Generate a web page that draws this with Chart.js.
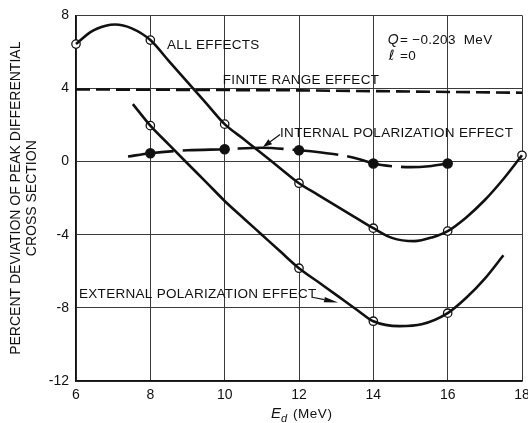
<!DOCTYPE html>
<html>
<head>
<meta charset="utf-8">
<script src="https://cdn.jsdelivr.net/npm/chart.js@4.4.1/dist/chart.umd.min.js"></script>
<style>
  html, body { margin: 0; padding: 0; background: #fff; }
  canvas { display: block; }
</style>
</head>
<body>
<canvas id="chart" width="528" height="423"></canvas>
<script>
// Deuteron energy E_d (MeV) and percent deviation of the peak differential cross section.

// All effects: traced curve and the computed points (open circles)
const allEffectsE   = [6.0, 6.4, 6.8, 7.05, 7.5, 8.0, 8.5, 9.0, 9.5, 10.0, 10.5, 11.0, 11.5, 12.0, 12.5, 13.0, 13.5, 14.0, 14.5, 15.1, 15.6, 16.0, 16.5, 17.0, 17.5, 18.0];
const allEffectsDev = [6.43, 7.1, 7.43, 7.5, 7.29, 6.65, 5.5, 4.35, 3.2, 2.05, 1.25, 0.45, -0.37, -1.18, -1.8, -2.42, -3.03, -3.64, -4.17, -4.35, -4.13, -3.8, -3.05, -2.1, -0.95, 0.35];
const allEffectsPtE   = [6, 8, 10, 12, 14, 16, 18];
const allEffectsPtDev = [6.43, 6.65, 2.05, -1.18, -3.64, -3.8, 0.35];

// Finite range effect (dashed)
const finiteRangeE   = [6, 12, 18];
const finiteRangeDev = [3.95, 3.9, 3.77];

// Internal polarization effect (long dashes, filled circles)
const internalE   = [7.4, 8, 9, 10, 11, 12, 12.6, 13.2, 13.6, 14, 14.5, 15, 15.5, 16];
const internalDev = [0.28, 0.46, 0.62, 0.68, 0.76, 0.62, 0.5, 0.33, 0.15, -0.1, -0.25, -0.3, -0.25, -0.1];
const internalPtE   = [8, 10, 12, 14, 16];
const internalPtDev = [0.46, 0.68, 0.62, -0.1, -0.1];

// External polarization effect (open circles)
const externalE   = [7.53, 8.0, 8.5, 9.0, 9.5, 10.0, 10.5, 11.0, 11.5, 12.0, 12.5, 13.0, 13.6, 14.0, 14.7, 15.3, 16.0, 16.5, 17.0, 17.5];
const externalDev = [3.15, 1.97, 0.93, -0.1, -1.12, -2.15, -3.08, -4.0, -4.92, -5.83, -6.56, -7.29, -8.17, -8.73, -9.0, -8.9, -8.29, -7.45, -6.4, -5.12];
const externalPtE   = [8, 12, 14, 16];
const externalPtDev = [1.97, -5.83, -8.73, -8.29];

// Axis ticks
const xTicks = [6, 8, 10, 12, 14, 16, 18];
const yTicks = [-12, -8, -4, 0, 4, 8];

const pairs = (xs, ys) => xs.map((x, i) => ({ x, y: ys[i] }));
const FONT = '"Liberation Sans", Arial, Helvetica, sans-serif';
const INK = '#111';

function curve(xs, ys, extra) {
  return Object.assign({
    type: 'line',
    data: pairs(xs, ys),
    borderColor: INK,
    borderWidth: 2.6,
    pointRadius: 0,
    pointHoverRadius: 0,
    fill: false,
    cubicInterpolationMode: 'monotone',
    clip: false
  }, extra || {});
}

function markers(xs, ys, filled) {
  return {
    type: 'scatter',
    data: pairs(xs, ys),
    showLine: false,
    pointRadius: filled ? 4.6 : 4.2,
    pointHoverRadius: filled ? 4.6 : 4.2,
    pointBackgroundColor: filled ? INK : '#fff',
    pointBorderColor: INK,
    pointBorderWidth: 1.3,
    clip: false
  };
}

// Curve labels, arrows and the reaction parameters, placed in data units
const labels = [
  { text: 'ALL EFFECTS', x: 8.45, y: 6.38 },
  { text: 'FINITE RANGE EFFECT', x: 9.95, y: 4.46 },
  { text: 'INTERNAL POLARIZATION EFFECT', x: 11.49, y: 1.56 },
  { text: 'EXTERNAL POLARIZATION EFFECT', x: 6.08, y: -7.25 }
];
const arrows = [
  { from: [11.49, 1.48], to: [11.03, 0.8], head: 9, half: 3.2 },
  { from: [12.36, -7.42], to: [13.05, -7.7], head: 14, half: 2.6 }
];

const notesPlugin = {
  id: 'notes',
  afterDatasetsDraw(chart) {
    const { ctx, scales: { x, y } } = chart;
    ctx.save();
    ctx.fillStyle = INK;
    ctx.strokeStyle = INK;
    ctx.textBaseline = 'middle';
    ctx.textAlign = 'left';
    ctx.font = '13.5px ' + FONT;
    ctx.letterSpacing = '0.3px';
    labels.forEach(l => ctx.fillText(l.text, x.getPixelForValue(l.x), y.getPixelForValue(l.y)));

    // Q and l values
    const qx = x.getPixelForValue(14.39), qy = y.getPixelForValue(6.65);
    ctx.font = 'italic 14px ' + FONT;
    ctx.fillText('Q', qx, qy);
    let w = ctx.measureText('Q').width;
    ctx.font = '13.5px ' + FONT;
    ctx.fillText('= \u22120.203  MeV', qx + w + 1, qy);
    const ly = y.getPixelForValue(5.77);
    ctx.font = 'italic 14px "DejaVu Sans", ' + FONT;
    ctx.fillText('\u2113', qx + 1, ly);
    w = ctx.measureText('\u2113').width;
    ctx.font = '13.5px ' + FONT;
    ctx.fillText(' =0', qx + w + 2, ly);

    // arrows
    arrows.forEach(a => {
      const x0 = x.getPixelForValue(a.from[0]), y0 = y.getPixelForValue(a.from[1]);
      const x1 = x.getPixelForValue(a.to[0]), y1 = y.getPixelForValue(a.to[1]);
      const ang = Math.atan2(y1 - y0, x1 - x0);
      const bx = x1 - a.head * Math.cos(ang), by = y1 - a.head * Math.sin(ang);
      ctx.lineWidth = 1.2;
      ctx.beginPath();
      ctx.moveTo(x0, y0);
      ctx.lineTo(bx, by);
      ctx.stroke();
      ctx.beginPath();
      ctx.moveTo(x1, y1);
      ctx.lineTo(bx + a.half * Math.sin(ang), by - a.half * Math.cos(ang));
      ctx.lineTo(bx - a.half * Math.sin(ang), by + a.half * Math.cos(ang));
      ctx.closePath();
      ctx.fill();
    });

    // x axis title: E_d (MeV)
    const cx = (chart.chartArea.left + chart.chartArea.right) / 2 - 28;
    const ty = 414;
    ctx.letterSpacing = '0px';
    ctx.font = 'italic 15px ' + FONT;
    ctx.fillText('E', cx, ty);
    let ex = cx + ctx.measureText('E').width;
    ctx.font = 'italic 11px ' + FONT;
    ctx.fillText('d', ex, ty + 5);
    ex += ctx.measureText('d').width + 6;
    ctx.font = '13.5px ' + FONT;
    ctx.letterSpacing = '0.5px';
    ctx.fillText('(MeV)', ex, ty);
    ctx.restore();
  }
};

new Chart(document.getElementById('chart'), {
  data: {
    datasets: [
      curve(finiteRangeE, finiteRangeDev, { borderDash: [14, 6], cubicInterpolationMode: 'default', tension: 0 }),
      curve(internalE, internalDev, { borderDash: [46, 9] }),
      curve(allEffectsE, allEffectsDev),
      curve(externalE, externalDev),
      markers(allEffectsPtE, allEffectsPtDev, false),
      markers(externalPtE, externalPtDev, false),
      markers(internalPtE, internalPtDev, true)
    ]
  },
  options: {
    responsive: false,
    animation: false,
    events: [],
    layout: { padding: { top: 15, right: 6, left: 0, bottom: 0 } },
    plugins: {
      legend: { display: false },
      tooltip: { enabled: false }
    },
    scales: {
      x: {
        type: 'linear',
        min: 6,
        max: 18,
        afterBuildTicks: s => { s.ticks = xTicks.map(v => ({ value: v })); },
        afterFit: s => { s.height = 42; s.paddingLeft = 0; s.paddingRight = 0; },
        ticks: { color: INK, padding: 6, font: { family: FONT, size: 14 } },
        grid: { color: '#3a3a3a', lineWidth: 1, drawTicks: false },
        border: { color: INK, width: 1.4 }
      },
      y: {
        type: 'linear',
        min: -12,
        max: 8,
        afterBuildTicks: s => { s.ticks = yTicks.map(v => ({ value: v })); },
        afterFit: s => { s.width = 76; },
        ticks: { color: INK, padding: 7, font: { family: FONT, size: 14 } },
        grid: { color: '#3a3a3a', lineWidth: 1, drawTicks: false },
        border: { color: INK, width: 1.4 },
        title: {
          display: true,
          text: ['PERCENT DEVIATION OF PEAK DIFFERENTIAL', 'CROSS SECTION'],
          color: INK,
          padding: { top: 9, bottom: 0 },
          font: { family: FONT, size: 14, lineHeight: 1.08 }
        }
      }
    }
  },
  plugins: [notesPlugin]
});
</script>
</body>
</html>
